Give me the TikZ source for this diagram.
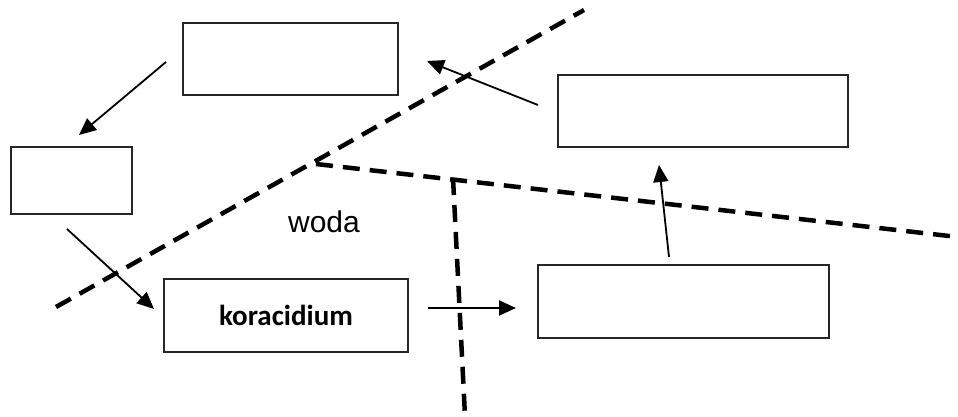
\documentclass[tikz,border=0pt]{standalone}
\usepackage{fontspec}
\setmainfont{Liberation Sans}
\newfontfamily\calib{Carlito}
\usetikzlibrary{arrows.meta}
\tikzset{
  box/.style={draw=black!85, line width=2pt, inner sep=0pt, minimum width=#1},
  box/.default=100pt,
  arr/.style={line width=1.8pt, -{Triangle[length=17pt,width=15pt]}},
  border/.style={line width=4.5pt, dash pattern=on 17pt off 10pt}
}
\begin{document}
\begin{tikzpicture}[x=1pt,y=-1pt]
\useasboundingbox (0,0) rectangle (958,416);
% dashed borders
\coordinate (d1a) at (56,307);
\coordinate (d1b) at (584,10);
\coordinate (d2a) at (316,164);
\coordinate (d2b) at (958,237);
\coordinate (d3a) at (453,178);
\coordinate (d3b) at (465,416);
\draw[border] (d1a) -- (d1b);
\draw[border] (d2a) -- (d2b);
\draw[border] (d3a) -- (d3b);
% boxes
\node[box=215pt, minimum height=72pt] (top) at (290.5,59) {};
\node[box=121pt, minimum height=67pt] (left) at (71.5,180) {};
\node[box=244pt, minimum height=73pt] (kor) at (286,315.5) {\calib\fontsize{29}{32}\selectfont\bfseries koracidium};
\node[box=291pt, minimum height=73pt] (rb) at (683.5,301.5) {};
\node[box=290pt, minimum height=72pt] (rt) at (703,111) {};
\node (woda) at (324,222) {\fontsize{30}{34}\selectfont woda};
% arrow ends
\coordinate (a1s) at (166,62);
\coordinate (a1e) at (79,135);
\coordinate (a2s) at (67,229);
\coordinate (a2e) at (154,309);
\coordinate (a3s) at (428,308);
\coordinate (a3e) at (516,308);
\coordinate (a4s) at (669,257);
\coordinate (a4e) at (659,165);
\coordinate (a5s) at (538,105);
\coordinate (a5e) at (427,61);
\draw[arr] (a1s) -- (a1e);
\draw[arr] (a2s) -- (a2e);
\draw[arr] (a3s) -- (a3e);
\draw[arr] (a4s) -- (a4e);
\draw[arr] (a5s) -- (a5e);
\end{tikzpicture}
\end{document}
